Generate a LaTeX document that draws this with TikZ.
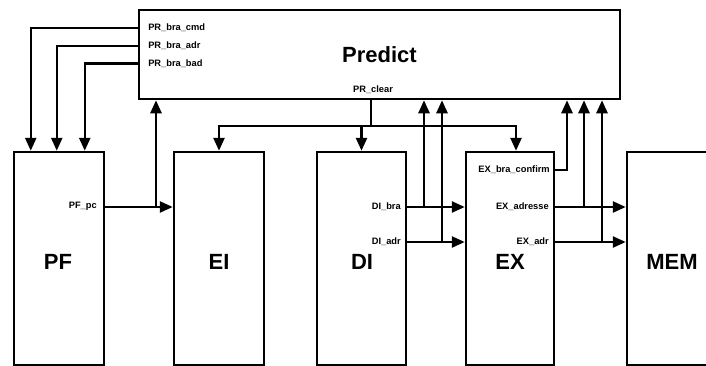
\documentclass[tikz,border=0pt]{standalone}
\usepackage{fontspec}
\setmainfont{Liberation Sans}
\usetikzlibrary{arrows.meta,calc}
\begin{document}
\begin{tikzpicture}[x=1pt,y=-1pt,line width=2.5pt,
  box/.style={draw,line width=2.5pt,inner sep=0pt},
  arr/.style={-{Triangle[length=13pt,width=11pt]},line width=2.5pt},
  port/.style={font=\bfseries\fontsize{9.3}{10}\selectfont,inner sep=0pt},
  big/.style={font=\bfseries\fontsize{22}{24}\selectfont,inner sep=0pt}]
\useasboundingbox (0,0) rectangle (706,365);
% blocks
\node[box,minimum width=481pt,minimum height=89pt,big] (predict) at (379.5,54.5) {Predict};
\node[box,minimum width=90pt,minimum height=213pt] (pf) at (59,258.5) {};
\node[box,minimum width=90pt,minimum height=213pt] (ei) at (219,258.5) {};
\node[box,minimum width=89pt,minimum height=213pt] (di) at (361.5,258.5) {};
\node[box,minimum width=88pt,minimum height=213pt] (ex) at (510,258.5) {};
\node[box,minimum width=133pt,minimum height=213pt] (mem) at (693.5,258.5) {};
% block names
\node[big] (pfl) at (58,262) {PF};
\node[big] (eil) at (219,262) {EI};
\node[big] (dil) at (362,262) {DI};
\node[big] (exl) at (510,262) {EX};
\node[big] (meml) at (672,262) {MEM};
% port labels
\node[port,anchor=west] (prcmd) at (147,28) {PR\_bra\_cmd};
\node[port,anchor=west] (pradr) at (147,46) {PR\_bra\_adr};
\node[port,anchor=west] (prbad) at (147,63.5) {PR\_bra\_bad};
\node[port] (prclear) at (373,90) {PR\_clear};
\node[port,anchor=east] (pfpc) at (98,206.5) {PF\_pc};
\node[port,anchor=east] (dibra) at (402,206.5) {DI\_bra};
\node[port,anchor=east] (diadr) at (402,241.5) {DI\_adr};
\node[port,anchor=east] (exconf) at (551,169.5) {EX\_bra\_confirm};
\node[port,anchor=east] (exadresse) at (550,206.5) {EX\_adresse};
\node[port,anchor=east] (exadr) at (550,241.5) {EX\_adr};
% junction coordinates
\coordinate (jpf) at (156,207);
\coordinate (jclr) at (371,126);
\coordinate (jdibra) at (424,207);
\coordinate (jdiadr) at (442,242);
\coordinate (jconf) at (567,170);
\coordinate (jexadresse) at (584,207);
\coordinate (jexadr) at (602,242);
% Predict -> PF
\draw[arr] (predict.west |- prcmd) -| ($(pf.north west)+(18,0)$);
\draw[arr] (predict.west |- pradr) -| ($(pf.north west)+(44,0)$);
\draw[arr] (predict.west |- prbad) -| ($(pf.north west)+(72,0)$);
% PF_pc
\draw[arr] (pf.east |- jpf) -- (ei.west |- jpf);
\draw[arr] (jpf) -- (jpf |- predict.south);
% PR_clear
\draw (jclr |- predict.south) -- (jclr);
\draw[arr] (jclr) -| (ei.north);
\draw[arr] (jclr -| di.north) -- (di.north);
\draw[arr] (jclr) -| ($(ex.north)+(6,0)$);
% DI outputs
\draw[arr] (di.east |- jdibra) -- (ex.west |- jdibra);
\draw[arr] (jdibra) -- (jdibra |- predict.south);
\draw[arr] (di.east |- jdiadr) -- (ex.west |- jdiadr);
\draw[arr] (jdiadr) -- (jdiadr |- predict.south);
% EX outputs
\draw[arr] (ex.east |- jconf) -| (jconf |- predict.south);
\draw[arr] (ex.east |- jexadresse) -- (mem.west |- jexadresse);
\draw[arr] (jexadresse) -- (jexadresse |- predict.south);
\draw[arr] (ex.east |- jexadr) -- (mem.west |- jexadr);
\draw[arr] (jexadr) -- (jexadr |- predict.south);
\end{tikzpicture}
\end{document}
